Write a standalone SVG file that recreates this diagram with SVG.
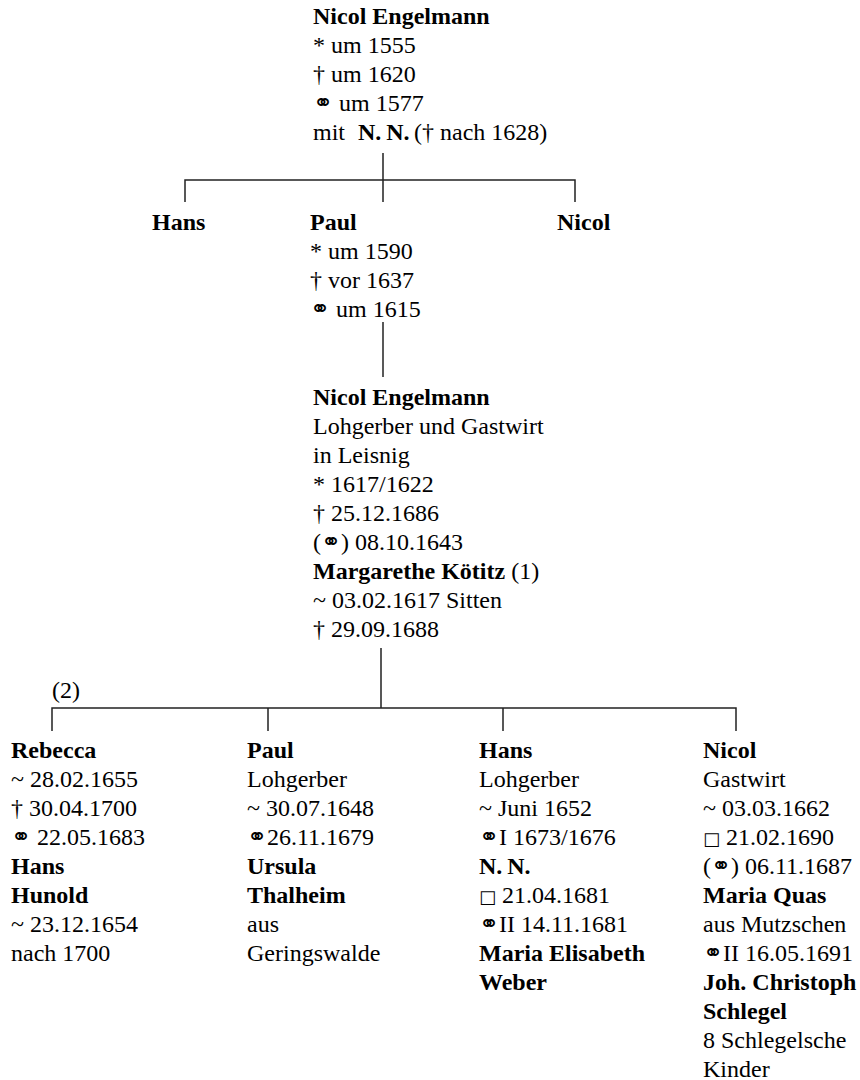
<svg xmlns="http://www.w3.org/2000/svg" width="860" height="1080" viewBox="0 0 860 1080">
  <style>
    text { font-family: "Liberation Serif", "Times New Roman", serif; font-size: 24px; fill: #000; }
    .b { font-weight: bold; }
    .sym { font-family: "DejaVu Sans", sans-serif; font-weight: 200; font-size: 24px; }
    .sq { font-family: "DejaVu Sans", sans-serif; font-size: 18px; }
    .link { fill: none; stroke: #222; stroke-width: 1.5; }
  </style>

  <!-- connectors -->
  <g id="connectors" class="link">
    <path d="M383 153 V202 M185 202 V180 H575 V202"/>
    <path d="M383 322 V377"/>
    <path d="M381 648 V708 M52 731 V708 H736 V731 M268 708 V731 M503 708 V731"/>
  </g>

  <!-- generation 1 -->
  <g id="nicol-sen">
    <text x="313" y="24" class="b">Nicol Engelmann</text>
    <text x="313" y="53">* um 1555</text>
    <text x="313" y="82">† um 1620</text>
    <text x="313" y="111"><tspan class="sym">⚭</tspan> um 1577</text>
    <text x="313" y="140">mit</text>
    <text x="358" y="140" class="b">N.&#8201;N.</text>
    <text x="414" y="140">(† nach 1628)</text>
  </g>

  <!-- generation 2 -->
  <g id="hans-1">
    <text x="152" y="230" class="b">Hans</text>
  </g>
  <g id="paul-1">
    <text x="310" y="230" class="b">Paul</text>
    <text x="310" y="259">* um 1590</text>
    <text x="310" y="288">† vor 1637</text>
    <text x="310" y="317"><tspan class="sym">⚭</tspan> um 1615</text>
  </g>
  <g id="nicol-1">
    <text x="557" y="230" class="b">Nicol</text>
  </g>

  <!-- generation 3 -->
  <g id="nicol-2">
    <text x="313" y="405" class="b">Nicol Engelmann</text>
    <text x="313" y="434">Lohgerber und Gastwirt</text>
    <text x="313" y="463">in Leisnig</text>
    <text x="313" y="492">* 1617/1622</text>
    <text x="313" y="521">† 25.12.1686</text>
    <text x="313" y="550">(<tspan class="sym">⚭</tspan>) 08.10.1643</text>
    <text x="313" y="579"><tspan class="b">Margarethe Kötitz</tspan> (1)</text>
    <text x="313" y="608">~ 03.02.1617 Sitten</text>
    <text x="313" y="637">† 29.09.1688</text>
  </g>

  <text x="52" y="698">(2)</text>

  <!-- generation 4 -->
  <g id="rebecca">
    <text x="11" y="758" class="b">Rebecca</text>
    <text x="11" y="787">~ 28.02.1655</text>
    <text x="11" y="816">† 30.04.1700</text>
    <text x="11" y="845"><tspan class="sym">⚭</tspan> 22.05.1683</text>
    <text x="11" y="874" class="b">Hans</text>
    <text x="11" y="903" class="b">Hunold</text>
    <text x="11" y="932">~ 23.12.1654</text>
    <text x="11" y="961">nach 1700</text>
  </g>
  <g id="paul-2">
    <text x="247" y="758" class="b">Paul</text>
    <text x="247" y="787">Lohgerber</text>
    <text x="247" y="816">~ 30.07.1648</text>
    <text x="247" y="845"><tspan class="sym">⚭</tspan>26.11.1679</text>
    <text x="247" y="874" class="b">Ursula</text>
    <text x="247" y="903" class="b">Thalheim</text>
    <text x="247" y="932">aus</text>
    <text x="247" y="961">Geringswalde</text>
  </g>
  <g id="hans-2">
    <text x="479" y="758" class="b">Hans</text>
    <text x="479" y="787">Lohgerber</text>
    <text x="479" y="816">~ Juni 1652</text>
    <text x="479" y="845"><tspan class="sym">⚭</tspan>I 1673/1676</text>
    <text x="479" y="874" class="b">N.&#8201;N.</text>
    <text x="479" y="903"><tspan class="sq">□</tspan> 21.04.1681</text>
    <text x="479" y="932"><tspan class="sym">⚭</tspan>II 14.11.1681</text>
    <text x="479" y="961" class="b">Maria Elisabeth</text>
    <text x="479" y="990" class="b">Weber</text>
  </g>
  <g id="nicol-3">
    <text x="703" y="758" class="b">Nicol</text>
    <text x="703" y="787">Gastwirt</text>
    <text x="703" y="816">~ 03.03.1662</text>
    <text x="703" y="845"><tspan class="sq">□</tspan> 21.02.1690</text>
    <text x="703" y="874">(<tspan class="sym">⚭</tspan>) 06.11.1687</text>
    <text x="703" y="903" class="b">Maria Quas</text>
    <text x="703" y="932">aus Mutzschen</text>
    <text x="703" y="961"><tspan class="sym">⚭</tspan>II 16.05.1691</text>
    <text x="703" y="990" class="b">Joh. Christoph</text>
    <text x="703" y="1019" class="b">Schlegel</text>
    <text x="703" y="1048">8 Schlegelsche</text>
    <text x="703" y="1077">Kinder</text>
  </g>
</svg>
